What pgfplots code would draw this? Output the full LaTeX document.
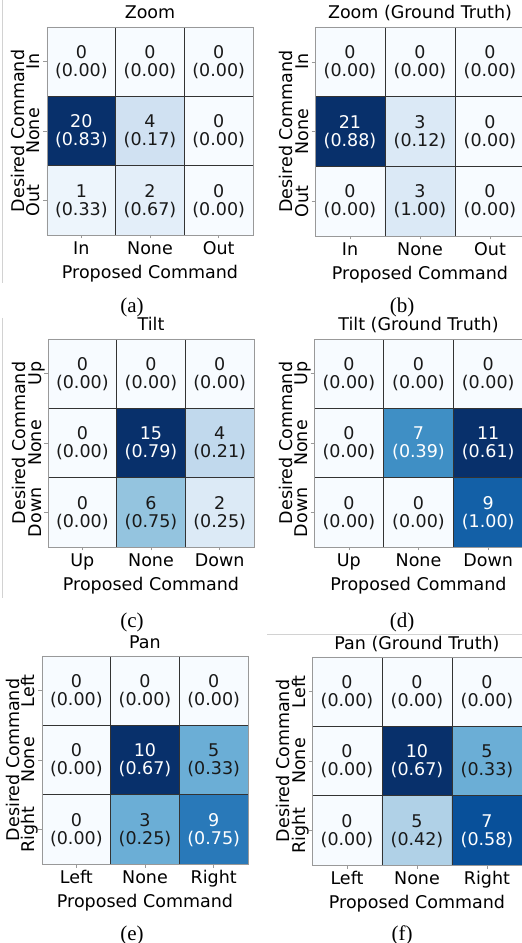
\documentclass[border=0pt]{standalone}
\usepackage{fontspec}
\setmainfont{DejaVu Sans}
\newfontfamily\capfont{Liberation Serif}
\usepackage{pgfplots}
\usepackage{pgfplotstable}
\pgfplotsset{compat=1.18}
\newcommand{\fs}{\fontsize{17.5}{19}\selectfont}

% x = proposed (0,1,2), y = desired (2 = top row, 0 = bottom row)
% c = colour level in Blues, n = count, p = proportion, w = 1 for white text
\pgfplotstableread{
x y c n p w
0 0 0.05 1 0.33 0
1 0 0.10 2 0.67 0
2 0 0 0 0.00 0
0 1 1 20 0.83 1
1 1 0.20 4 0.17 0
2 1 0 0 0.00 0
0 2 0 0 0.00 0
1 2 0 0 0.00 0
2 2 0 0 0.00 0
}\zoomtab
\pgfplotstableread{
x y c n p w
0 0 0 0 0.00 0
1 0 0.143 3 1.00 0
2 0 0 0 0.00 0
0 1 1 21 0.88 1
1 1 0.143 3 0.12 0
2 1 0 0 0.00 0
0 2 0 0 0.00 0
1 2 0 0 0.00 0
2 2 0 0 0.00 0
}\zoomgt
\pgfplotstableread{
x y c n p w
0 0 0 0 0.00 0
1 0 0.40 6 0.75 0
2 0 0.133 2 0.25 0
0 1 0 0 0.00 0
1 1 1 15 0.79 1
2 1 0.267 4 0.21 0
0 2 0 0 0.00 0
1 2 0 0 0.00 0
2 2 0 0 0.00 0
}\tilttab
\pgfplotstableread{
x y c n p w
0 0 0 0 0.00 0
1 0 0 0 0.00 0
2 0 0.818 9 1.00 1
0 1 0 0 0.00 0
1 1 0.636 7 0.39 1
2 1 1 11 0.61 1
0 2 0 0 0.00 0
1 2 0 0 0.00 0
2 2 0 0 0.00 0
}\tiltgt
\pgfplotstableread{
x y c n p w
0 0 0 0 0.00 0
1 0 0.50 3 0.25 0
2 0 0.72 9 0.75 1
0 1 0 0 0.00 0
1 1 1 10 0.67 1
2 1 0.50 5 0.33 0
0 2 0 0 0.00 0
1 2 0 0 0.00 0
2 2 0 0 0.00 0
}\pantab
\pgfplotstableread{
x y c n p w
0 0 0 0 0.00 0
1 0 0.32 5 0.42 0
2 0 0.88 7 0.58 1
0 1 0 0 0.00 0
1 1 1 10 0.67 1
2 1 0.50 5 0.33 0
0 2 0 0 0.00 0
1 2 0 0 0.00 0
2 2 0 0 0.00 0
}\pangt

\pgfplotsset{
  colormap={blues}{rgb255=(247,251,255) rgb255=(222,235,247) rgb255=(198,219,239)
    rgb255=(158,202,225) rgb255=(107,174,214) rgb255=(66,146,198)
    rgb255=(33,113,181) rgb255=(8,81,156) rgb255=(8,48,107)},
  cm/.style={
    width=206pt, height=208pt, scale only axis, anchor=south west,
    xmin=-0.5, xmax=2.5, ymin=-0.5, ymax=2.5, enlargelimits=false,
    axis on top,
    colormap name=blues, point meta min=0, point meta max=1,
    xtick={0,1,2}, ytick={0,1,2},
    minor xtick={0.5,1.5}, minor ytick={0.5,1.5},
    xminorgrids, yminorgrids,
    minor grid style={black!80, line width=0.9pt},
    minor tick length=0pt,
    tick align=outside, major tick length=3.5pt,
    major tick style={black!40, line width=0.6pt},
    xtick pos=left, ytick pos=left,
    axis line style={black!40, line width=0.9pt},
    tick label style={font=\fs, inner sep=0pt},
    xticklabel style={anchor=base},
    xticklabel shift=16pt,
    yticklabel style={rotate=90, anchor=base},
    yticklabel shift=3.5pt,
    title style={font=\fs, at={(axis description cs:0.5,1.0096)}, anchor=base},
    xlabel={Proposed Command},
    ylabel={Desired Command},
    xlabel style={font=\fs, at={(axis description cs:0.5,-0.2087)}, anchor=base},
    ylabel style={font=\fs, at={(axis description cs:-0.107,0.5)}, anchor=base},
  },
  cells/.style={matrix plot*, mesh/cols=3, point meta=explicit},
  txt/.style={only marks, mark=*, mark size=0pt, mark options={draw=none,fill=none},
    point meta=explicit symbolic,
    unbounded coords=discard,
    nodes near coords,
    nodes near coords align={center},
    every node near coord/.append style={font=\fs, anchor=base, inner sep=0pt},
  },
  blk/.style={y filter/.expression={\thisrow{w}<0.5 ? y : nan},
    every node near coord/.append style={text=black!90}},
  wht/.style={y filter/.expression={\thisrow{w}>0.5 ? y : nan},
    every node near coord/.append style={text=white}},
  cnt/.style={every node near coord/.append style={yshift=3.3pt}},
  prp/.style={nodes near coords={(\pgfplotspointmeta)},
    every node near coord/.append style={yshift=-14.7pt}},
}

\newcommand{\panel}[1]{%
  \addplot[cells] table[meta=c] {#1};
  \addplot[txt,blk,cnt] table[meta=n] {#1};
  \addplot[txt,wht,cnt] table[meta=n] {#1};
  \addplot[txt,blk,prp] table[meta=p] {#1};
  \addplot[txt,wht,prp] table[meta=p] {#1};
}

\begin{document}
\begin{tikzpicture}
\path[use as bounding box] (0pt,0pt) rectangle (522pt,943pt);
\draw[gray!35, line width=0.8pt] (2pt,943pt) -- (2pt,660pt);
\draw[gray!35, line width=0.8pt] (2pt,625pt) -- (2pt,345pt);
\draw[gray!35, line width=0.8pt] (267pt,309pt) -- (522pt,309pt);

\begin{axis}[cm, at={(47pt,708pt)}, title={Zoom},
  xticklabels={In,None,Out}, yticklabels={Out,None,In}]
\panel{\zoomtab}
\end{axis}

\begin{axis}[cm, width=210pt, height=209pt, at={(315pt,707pt)}, title={Zoom (Ground Truth)},
  xlabel style={at={(axis description cs:0.5,-0.2076)}},
  ylabel style={at={(axis description cs:-0.105,0.5)}},
  xticklabels={In,None,Out}, yticklabels={Out,None,In}]
\panel{\zoomgt}
\end{axis}

\begin{axis}[cm, at={(48pt,396pt)}, title={Tilt},
  xticklabels={Up,None,Down}, yticklabels={Down,None,Up}]
\panel{\tilttab}
\end{axis}

\begin{axis}[cm, width=209pt, at={(314pt,396pt)}, title={Tilt (Ground Truth)},
  ylabel style={at={(axis description cs:-0.105,0.5)}},
  xticklabels={Up,None,Down}, yticklabels={Down,None,Up}]
\panel{\tiltgt}
\end{axis}

\begin{axis}[cm, at={(42pt,79pt)}, title={Pan},
  xticklabels={Left,None,Right}, yticklabels={Right,None,Left}]
\panel{\pantab}
\end{axis}

\begin{axis}[cm, width=210pt, at={(312pt,78pt)}, title={Pan (Ground Truth)},
  ylabel style={at={(axis description cs:-0.105,0.5)}},
  xticklabels={Left,None,Right}, yticklabels={Right,None,Left}]
\panel{\pangt}
\end{axis}

\begin{scope}[every node/.style={font=\capfont\fontsize{21}{21}\selectfont}]
\node at (132pt,636pt) {(a)};
\node at (402pt,636pt) {(b)};
\node at (132pt,321pt) {(c)};
\node at (402pt,321pt) {(d)};
\node at (132pt,8pt) {(e)};
\node at (402pt,8pt) {(f)};
\end{scope}
\end{tikzpicture}
\end{document}
